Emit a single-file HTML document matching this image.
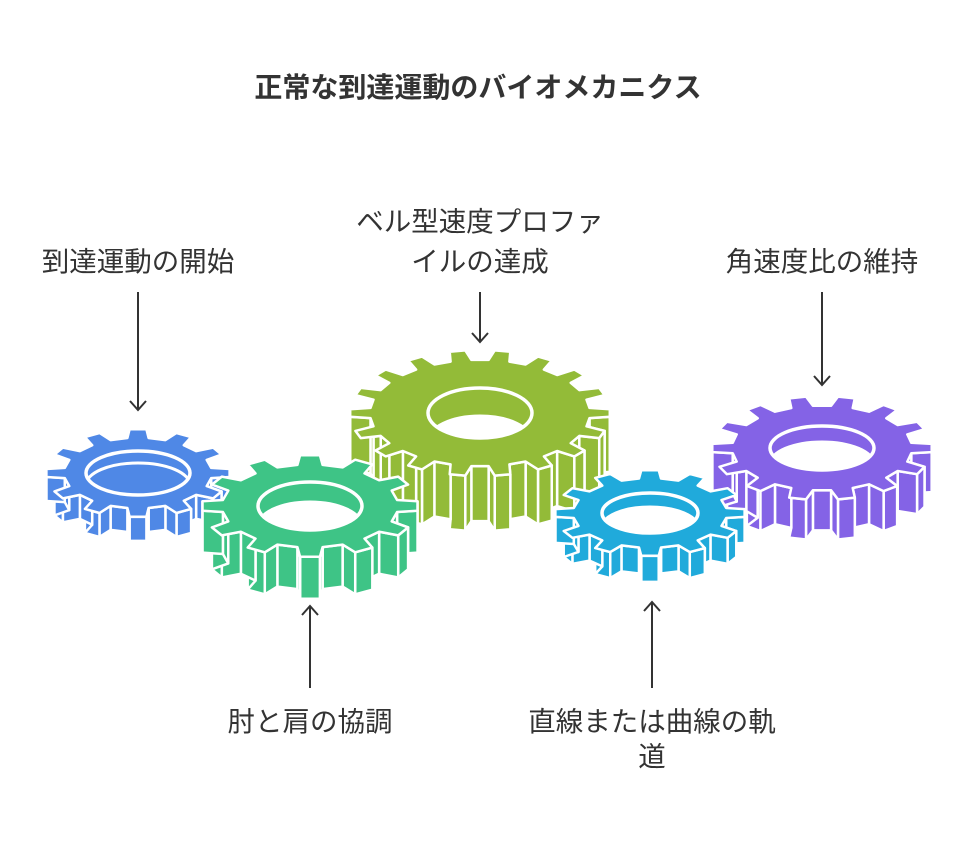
<!DOCTYPE html>
<html><head><meta charset="utf-8"><style>
body{margin:0;background:#fff;width:970px;height:844px;overflow:hidden}
svg{display:block}
text{font-family:"Liberation Sans","Noto Sans CJK JP",sans-serif;fill:#333;font-size:27.5px}
</style></head><body>
<svg id="s" width="970" height="844" xmlns="http://www.w3.org/2000/svg">
<defs id="d"></defs>
<text x="478" y="97" text-anchor="middle" style="font-weight:bold;font-size:28px">正常な到達運動のバイオメカニクス</text>
<text x="138" y="271" text-anchor="middle">到達運動の開始</text>
<text x="480" y="231" text-anchor="middle">ベル型速度プロファ</text>
<text x="480" y="271" text-anchor="middle">イルの達成</text>
<text x="822" y="271" text-anchor="middle">角速度比の維持</text>
<text x="310" y="731" text-anchor="middle">肘と肩の協調</text>
<text x="652" y="731" text-anchor="middle">直線または曲線の軌</text>
<text x="652" y="766" text-anchor="middle">道</text>
<g stroke="#333" stroke-width="2" fill="none">
<path d="M138 292V410M130 401l8 9 8-9"/>
<path d="M480 292V342M472 333l8 9 8-9"/>
<path d="M822 292V385M814 376l8 9 8-9"/>
<path d="M310 688V606M302 615l8-9 8 9"/>
<path d="M652 688V602M644 611l8-9 8 9"/>
</g>
<g id="g"></g>
</svg>
<script>
var G=document.getElementById('g'),D=document.getElementById('d'),NS='http://www.w3.org/2000/svg',cid=0;
function el(t,a,p){var e=document.createElementNS(NS,t);for(var k in a)e.setAttribute(k,a[k]);(p||G).appendChild(e);return e;}
function gear(cx,cy,R,ry,n,depth,h,col,hrx,hry,hd,see){
 var k=ry/R,pts=[],inner=R-depth;
 for(var i=0;i<n;i++){
  var a=2*Math.PI*i/n,w=Math.PI/n;
  [[a-w*0.55,inner],[a-w*0.35,R],[a+w*0.35,R],[a+w*0.55,inner]].forEach(function(p){pts.push([cx+p[1]*Math.cos(p[0]),cy+p[1]*k*Math.sin(p[0])]);});
 }
 var s=function(dy){return pts.map(function(p){return p[0].toFixed(1)+','+(p[1]+dy).toFixed(1)}).join(' ');};
 var st={fill:col,stroke:'#fff','stroke-width':2.5,'stroke-linejoin':'round'};
 el('polygon',Object.assign({points:s(h)},st));
 for(var i=0;i<pts.length;i++){
  var p=pts[i],q=pts[(i+1)%pts.length];
  if(p[1]<cy-2&&q[1]<cy-2)continue;
  el('polygon',Object.assign({points:p[0]+','+p[1]+' '+q[0]+','+q[1]+' '+q[0]+','+(q[1]+h)+' '+p[0]+','+(p[1]+h)},st));
 }
 el('polygon',Object.assign({points:s(0)},st));
 var id='c'+(cid++);
 var cp=el('clipPath',{id:id},D);el('ellipse',{cx:cx,cy:cy,rx:hrx,ry:hry},cp);
 var g=el('g',{'clip-path':'url(#'+id+')'});
 el('ellipse',{cx:cx,cy:cy+hd,rx:hrx,ry:hry,fill:see?'#fff':col,stroke:'#fff','stroke-width':3},g);
 el('ellipse',{cx:cx,cy:cy,rx:hrx,ry:hry,fill:'none',stroke:'#fff','stroke-width':3.5});
}
gear(480,413,130,63,18,20,55,'#93bb38',52,25,28,true);
gear(138,473,92,44,12,18,24,'#4f88e6',52,22,12,false);
gear(822,448,110,52,14,20,40,'#8463e6',52,22,16,true);
gear(310,506,108,51,12,20,42,'#3ec486',52,24,20,true);
gear(650,513,95,43,12,18,26,'#20aadb',48,20,14,true);
</script>
</body></html>
